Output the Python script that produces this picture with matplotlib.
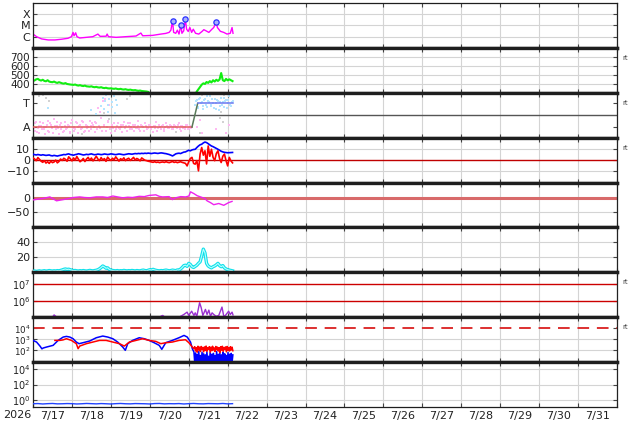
import numpy as np
import matplotlib
matplotlib.use("Agg")
import matplotlib.pyplot as plt
from matplotlib.ticker import FixedLocator, FixedFormatter, NullLocator

plt.rcParams['font.family'] = ['DejaVu Sans']

# ---------------- data (time in hours from 7/17 00:00) ----------------
day_labels = ['7/17', '7/18', '7/19', '7/20', '7/21', '7/22', '7/23', '7/24',
              '7/25', '7/26', '7/27', '7/28', '7/29', '7/30', '7/31']
year_label = '2026'

# Panel 1: X-ray flux
xray_t = [0, 2.2, 5.3, 9.4, 13.5, 17.6, 21.6, 23.7, 24.7, 25.3, 26.3, 27.1, 28.8, 32.9,
          36.9, 40, 41.4, 45.1, 45.7, 46.5, 51.2, 57.3, 63.5, 66.5, 67.6, 73.7, 78.8,
          81.8, 83.9, 85, 86, 86.7, 88, 89, 90, 91.2, 91.8, 92.9, 93.9, 94.7, 95.7,
          96.7, 97.8, 98.8, 100.2, 102.2, 104.3, 105.3, 106.7, 108.4, 110, 111.4,
          112.9, 113.7, 115.5, 117.6, 119.6, 121.6, 122.7, 123.3]
xray_v = [1.7e-6, 1.0e-6, 6.3e-7, 5.1e-7, 5.1e-7, 5.9e-7, 7.2e-7, 1.0e-6, 2.4e-6, 1.2e-6,
          2.2e-6, 1.0e-6, 7.6e-7, 8.7e-7, 1.0e-6, 1.7e-6, 1.07e-6, 1.1e-6, 1.7e-6, 1.0e-6,
          8.7e-7, 1.0e-6, 1.14e-6, 2.1e-6, 1.2e-6, 1.3e-6, 1.7e-6, 1.95e-6, 2.4e-6, 3.8e-6,
          2.5e-5, 2.4e-6, 2.0e-6, 3.8e-6, 1.7e-6, 1.1e-5, 2.0e-6, 3.3e-6, 3.4e-5, 4.6e-6,
          2.9e-6, 6.5e-6, 2.4e-6, 4.6e-6, 2.0e-6, 1.7e-6, 3.0e-6, 4.2e-6, 3.3e-6, 2.4e-6,
          4.2e-6, 6.5e-6, 2.0e-5, 6.5e-6, 3.0e-6, 2.4e-6, 1.7e-6, 2.0e-6, 6.5e-6, 2.0e-6]
flare_t = [86, 91.2, 93.9, 112.9]
flare_v = [2.5e-5, 1.1e-5, 3.4e-5, 2.0e-5]
xray_ticks = [1e-6, 1e-5, 1e-4]
xray_labels = ['C', 'M', 'X']

# Panel 2: solar wind speed (hourly)
nan = np.nan
speed_v = [430, 438, 450, 455, 442, 436, 445, 432, 428, 440, 425, 420, 418, 425, 415, 410, 418, 412, 405, 402, 408, 398, 395, 392,
           390, 388, 392, 384, 380, 385, 378, 375, 380, 372, 370, 368, 372, 365, 362, 366, 360, 358, 362, 355, 352, 356, 350, 348,
           350, 346, 344, 348, 342, 340, 344, 338, 336, 340, 334, 332, 335, 330, 328, 330, 325, 322, 325, 320, 318, 316, 314, 310,
           nan, nan, nan, nan, nan, nan, nan, nan, nan, nan, nan, nan, nan, nan,
           nan, nan, nan, nan, nan, nan, nan, nan, nan, nan, nan, nan, nan, nan,
           nan, 315, 340, 365, 390, 405, 398, 420, 410, 430, 415, 440, 425, 445, 432, 448, 520, 440, 430, 455, 438, 450, 440, 430]

# Panel 3: sector polarity (A = -1, T = +1)
pol_line_t = [0, 98, 101.5, 123]
pol_line_v = [-1, -1, 1, 1]
pink_v1 = [-0.8, -1.3, -0.6, -1.1, -1.5, -0.9, -0.7, -1.2, -1.0, -0.5, -1.4, -0.8, -1.1, -0.3, -1.2, -0.9, -1.6, -0.7, -1.0, -1.3,
           -0.6, -1.1, -0.9, -1.4, -0.4, -1.0, -1.2, -0.7, -1.5, -0.8, -1.1, -0.6, -1.3, -0.9, -1.0, -0.5, -1.2, -0.8, -1.4, -0.7,
           0.6, -1.1, -0.2, 1.2, -0.9, -1.3, -0.6, 0.9, -1.5, -1.0, -0.7, -1.2, -0.9, -1.1, -0.8, -1.4, -0.6, -1.0, -1.3, -0.9,
           -0.7, -1.2, -1.0, -0.8, -1.1, -0.5, -1.3, -0.9, -1.0, -0.7, -1.2, -1.1, -0.8, -1.0, -1.4, -0.9, -0.6, -1.1, -1.0, -1.2,
           -0.8, -1.3, -0.7, -1.0, -1.1, -0.9, -1.2, -0.8, -1.0, -1.1, -0.7, -1.3, -0.9, -1.0, -1.2, -0.8, -1.1, -0.9]
pink_v2 = [-1.1, -0.7, -1.4, -0.9, -0.6, -1.2, -1.0, -1.6, -0.8, -1.3, -0.7, -1.0, -1.5, -0.9, -0.6, -1.1, -0.8, -1.2, -1.4, -0.9,
           -1.2, -0.8, -1.5, -0.7, -1.1, -1.3, -0.6, -1.0, -0.9, -1.2, -0.5, -1.4, -0.8, -1.1, -1.3, -0.9, -0.7, -1.0, -0.6, -1.2,
           -0.9, 0.3, -1.3, -0.8, 1.4, -1.0, -0.5, -1.2, -0.8, -1.1, -1.3, -0.9, -0.7, -1.2, -1.0, -0.8, -1.1, -0.9, -0.7, -1.2,
           -1.0, -0.8, -1.3, -1.1, -0.9, -1.2, -0.8, -1.0, -1.3, -0.9, -1.1, -0.8, -1.2, -1.0, -0.9, -1.1, -1.3, -0.8, -1.0, -0.9,
           -1.2, -1.0, -0.9, -1.1, -0.8, -1.2, -1.0, -0.9, -1.1, -0.8, -1.2, -0.9, -1.1, -1.0, -0.8, -1.2, -1.0, -1.1]
pink_late_t = [101, 103, 104, 113, 119, 121]
pink_late_v = [-1.0, -0.4, -1.5, -1.2, -1.5, -0.8]
blue_early_t = [9.5, 42, 43, 44, 44.5, 45, 46, 46.5, 47, 48, 48.5, 49, 50, 50.5, 51, 52, 39, 36]
blue_early_v = [0.6, 0.8, 1.5, 0.5, 1.2, 1.7, 0.9, 0.3, 1.4, 1.8, 0.7, 1.1, 1.6, 0.2, 1.3, 0.9, 0.1, 0.4]
blue_late_v1 = [0.9, 1.3, 0.6, 1.5, 1.1, 0.8, 1.4, 0.7, 1.2, 1.6, 0.9, 1.0, 1.4, 0.5, 1.2, 0.8, 1.5, 1.1, 0.7, 1.3, 1.0, 1.6, 0.8, 1.2]
blue_late_v2 = [1.2, 0.7, 1.4, 1.0, 0.5, 1.3, 0.9, 1.6, 1.1, 0.8, 1.4, 0.6, 1.0, 1.3, 0.4, 1.1, 0.9, 1.5, 1.2, 0.6, 1.3, 0.9, 1.1]
gray_t = [4, 6, 8, 10, 30, 44, 47, 58, 60, 88, 96, 103, 115, 116, 117, 118, 104]
gray_v = [1.6, 1.7, 1.5, 1.2, -1.6, 0.2, -0.3, 1.4, 1.6, -1.4, 1.6, -1.5, -0.2, 0.3, -0.6, 1.7, 1.7]

# Panel 4: IMF Bt (blue) and Bz (red), hourly
bt_v = [4.8, 4.5, 4.2, 4.6, 4.3, 4.0, 4.4, 4.1, 3.8, 4.0, 4.2, 3.6, 3.4, 3.8, 3.5, 3.2, 3.6, 3.9, 4.2, 4.6,
        4.4, 4.9, 5.2, 4.6, 4.3, 4.0, 4.5, 4.8, 5.3, 5.0, 4.6, 4.2, 4.4, 4.8, 4.5, 4.9, 5.2, 4.7, 4.4, 4.6,
        5.0, 4.8, 4.5, 4.7, 5.1, 4.9, 4.6, 4.8, 5.2, 5.0, 4.7, 4.5, 4.8, 5.1, 4.9, 4.6, 4.4, 4.7, 5.0, 5.3,
        5.1, 4.9, 5.2, 5.5, 5.3, 5.6, 5.4, 5.7, 5.5, 5.8, 5.6, 5.9, 5.7, 5.5, 5.8, 6.0, 5.8, 5.6, 5.9, 6.1,
        5.9, 5.6, 5.4, 5.0, 4.6, 4.0, 3.3, 4.2, 5.2, 5.6, 5.8, 5.5, 6.2, 6.8, 7.0, 7.8, 8.5, 8.0, 8.8, 9.2,
        9.4, 11.0, 12.4, 13.5, 14.0, 15.2, 16.0, 15.5, 14.5, 13.4, 12.4, 11.8, 11.0, 10.2, 9.4, 8.5, 7.6, 7.0, 6.6, 6.4,
        6.2, 6.3, 6.4, 6.5]
bz_v = [1.5, 0.5, -1.0, 1.8, 0.2, -1.5, -2.5, -1.0, -3.2, -2.0, -3.5, -1.5, -2.8, -2.2, -0.5, -3.0, -1.8, 0.5, -0.8, 1.2,
        0.2, -1.5, 2.5, 0.8, -1.2, 1.5, -0.5, 2.8, 0.3, -2.0, -0.8, 1.0, -1.8, 0.5, 2.0, -0.6, 1.4, -1.2, 0.8, 3.0,
        0.5, -1.0, 1.8, -0.5, 0.9, -1.6, 2.2, 0.4, -0.8, 1.2, -0.2, 2.5, 0.6, -1.4, 0.8, -0.3, 1.6, -1.0, 0.5, 1.2,
        -0.8, 0.6, 2.0, -0.4, 1.0, 0.2, -1.2, 1.5, 0.4, -0.6, -1.0, -1.5, -1.8, -2.2, -2.5, -2.0, -2.6, -2.3, -2.8, -2.4,
        -2.2, -2.6, -2.0, -2.5, -2.8, -2.3, -1.8, -2.6, -2.2, -2.8, -2.4, -2.0, -2.6, -3.0,
        -3.5, -5.8, -2.0, 1.0, 2.0, -3.5, -4.2, -1.0, -10.3, 5.0, 11.0, 4.0, 8.0, -4.0, 12.4, 3.0, 9.4, 2.0, -1.0, 5.5,
        8.0, 1.0, -2.7, 3.0, 5.0, -1.0, -5.8, 2.0, -1.2, -3.0]

# Panel 5: Dst
dst_t = [0, 6.3, 10.4, 14.5, 16.5, 18.6, 21.6, 24.7, 28.8, 31.8, 34.9, 39, 43, 46, 49.2, 52.2, 55.3,
         58.4, 61.4, 65.5, 68.6, 71.6, 75.7, 77.8, 79.8, 83.9, 85.9, 88, 91, 94.1, 96.1, 97.1, 99.2,
         101.2, 104.3, 105.9, 107.3, 109.4, 111.4, 114.5, 117.6, 120.6, 122.7]
dst_v = [-8, -3, 2, -11, -9, -7, -4, 0, 2, 0, -1, 2, 2, 0, 5, 2, -1, 1, 0, 4, 3, 7, 9, 4, 2, 3, -7,
         -1, 3, 2, 5, 19, 13, 6, 0, -3, -11, -17, -24, -20, -26, -17, -13]

# Panel 6: cyan index (hourly)
cyan_v = [1.5, 1.8, 1.2, 1.6, 2.0, 1.4, 1.8, 2.2, 1.6, 1.9, 2.4, 2.0, 1.7, 2.1, 1.8, 2.3, 2.0, 2.6, 3.2, 4.0,
          4.5, 3.8, 4.2, 3.5, 2.8, 2.2, 2.5, 2.0, 1.8, 2.2, 1.9, 2.4, 2.0, 1.7, 2.1, 2.6, 2.2, 1.9, 2.4, 2.8,
          3.5, 4.8, 6.5, 8.5, 7.2, 5.5, 6.0, 4.0, 3.0, 2.5, 2.2, 2.0, 2.4, 1.8, 2.2, 2.0, 2.6, 2.2, 1.9, 2.3,
          2.0, 2.5, 2.2, 1.8, 2.4, 2.1, 1.9, 2.6, 3.0, 2.4, 2.0, 2.8, 3.5, 3.0, 4.0, 3.2, 2.6, 2.2, 2.0, 2.4,
          2.1, 2.6, 3.0, 2.5, 2.0, 2.4, 3.0, 2.6, 2.2, 3.2,
          3.0, 4.5, 6.5, 9.0, 9.5, 8.0, 12.0, 10.5, 7.5, 6.5, 8.0, 9.5, 12.0, 14.0, 22.0, 31.0, 26.0, 12.0,
          8.5, 7.0, 6.0, 7.5, 8.5, 10.0, 12.0, 9.0, 7.5, 9.0, 6.0, 4.5, 3.5, 3.0, 2.5, 2.0]

# Panel 7: purple flux
purple_t = [0, 11, 12, 13, 14, 15, 16, 77, 78, 79, 80, 81, 82, 83, 90, 91, 93, 95, 96, 97.8, 99.2, 100, 101,
            102.7, 103.7, 104.7, 106.3, 107.3, 108.4, 109.4, 110.4, 111.4, 112.9, 114.5, 116.5, 117.6,
            118.6, 120.6, 121.6, 122.7, 123.3]
purple_v = [9e4, 9e4, 1.12e5, 1.5e5, 1.25e5, 9e4, 9e4, 9e4, 9e4, 1.3e5, 1.4e5, 1.15e5, 9e4, 9e4, 9e4,
            1.25e5, 1.6e5, 2.2e5, 1.4e5, 2.5e5, 1.4e5, 2.0e5, 1.25e5, 8.0e5, 4.0e5, 1.4e5, 3.2e5, 1.6e5,
            2.9e5, 1.25e5, 2.0e5, 1.6e5, 1.25e5, 1.4e5, 4.4e5, 1.25e5, 1.4e5, 2.5e5, 1.6e5, 2.2e5, 1.5e5]
purple_ticks = [1e6, 1e7]

# Panel 8: particle flux (blue / red)
pb_t = [0, 2.2, 4.3, 5.5, 6.3, 8.4, 12.4, 15.5, 18.6, 20.6, 22.7, 24.7, 26.7, 28.4, 30.8, 34.9, 39, 43,
        46.1, 49.2, 52.2, 55.3, 56.9, 58.4, 61.4, 65.5, 68.6, 71.6, 74.7, 77.8, 79.4, 81.8, 85.9, 90,
        93.1, 95.1, 97.1, 98.2, 99.2,
        99.7, 100.2, 100.7, 101.2, 101.7, 102.2, 102.7, 103.2, 103.7, 104.2, 104.7, 105.2, 105.7, 106.2,
        106.7, 107.2, 107.7, 108.2, 108.7, 109.2, 109.7, 110.2, 110.7, 111.2, 111.7, 112.2, 112.7, 113.2,
        113.7, 114.2, 114.7, 115.2, 115.7, 116.2, 116.7, 117.2, 117.7, 118.2, 118.7, 119.2, 119.7, 120.2,
        120.7, 121.2, 121.7, 122.2, 122.7, 123.2]
pb_v = [810, 575, 250, 140, 167, 205, 290, 810, 1620, 1860, 1620, 1150, 575, 410, 500, 710, 1410, 2000,
        1620, 1150, 575, 205, 103, 410, 810, 1410, 1150, 810, 500, 290, 127, 500, 810, 1410,
        2280, 1620, 575, 146, 73,
        8, 60, 7, 45, 8, 80, 6, 35, 9, 70, 7, 50, 8, 40, 6, 75, 8, 30, 7, 65, 9, 45, 6, 55,
        8, 35, 7, 80, 6, 45, 9, 60, 7, 40, 8, 70, 6, 50, 9, 35, 7, 65, 8, 45, 6, 55, 8, 40]
pr_t = [13.5, 16.5, 18.5, 20.6, 23.7, 26.7, 27.8, 28.8, 32.9, 36.9, 41, 45.1, 49.2, 53.3, 56.3, 59.4,
        63.5, 67.6, 71.6, 75.7, 78.8, 81.8, 85.9, 90, 94, 96.1, 98.2, 99.2,
        99.7, 100.2, 100.7, 101.2, 101.7, 102.2, 102.7, 103.2, 103.7, 104.2, 104.7, 105.2, 105.7, 106.2,
        106.7, 107.2, 107.7, 108.2, 108.7, 109.2, 109.7, 110.2, 110.7, 111.2, 111.7, 112.2, 112.7, 113.2,
        113.7, 114.2, 114.7, 115.2, 115.7, 116.2, 116.7, 117.2, 117.7, 118.2, 118.7, 119.2, 119.7, 120.2,
        120.7, 121.2, 121.7, 122.2, 122.7, 123.2]
pr_v = [810, 810, 900, 1150, 810, 410, 146, 250, 410, 575, 810, 810, 575, 410, 250, 575,
        810, 1150, 810, 660, 410, 500, 575, 810, 930, 500, 205, 146,
        220, 90, 180, 70, 240, 110, 200, 80, 230, 120, 190, 75, 210, 100, 250, 85, 180, 130, 220, 70,
        200, 95, 240, 110, 170, 80, 230, 120, 200, 90, 180, 65, 220, 105, 240, 85, 190, 120, 210, 75,
        230, 100, 180, 90, 220, 110, 200, 95]
pf_ticks = [1e2, 1e3, 1e4]

# Panel 9: bottom flux (every 3 h)
bot_v = [0.33, 0.35, 0.31, 0.34, 0.36, 0.32, 0.33, 0.35, 0.34, 0.31, 0.33, 0.36, 0.34, 0.32, 0.35, 0.33,
         0.31, 0.34, 0.36, 0.33, 0.32, 0.35, 0.34, 0.33, 0.31, 0.35, 0.36, 0.32, 0.34, 0.33, 0.35, 0.31,
         0.34, 0.36, 0.33, 0.32, 0.35, 0.34, 0.33, 0.36, 0.32, 0.34]
bot_ticks = [1e0, 1e2, 1e4]

# ---------------- figure ----------------
W, H = 634, 424
fig = plt.figure(figsize=(W / 100, H / 100), dpi=100)
left_px, right_px, top_px, bot_px = 33, 617, 3, 407
n = 9
ph = (bot_px - top_px) / n
axes = []
for i in range(n):
    b = (H - top_px - (i + 1) * ph) / H
    ax = fig.add_axes([left_px / W, b, (right_px - left_px) / W, ph / H])
    axes.append(ax)

GRID = '#d4d4d4'
for i, ax in enumerate(axes):
    ax.set_xlim(0, 360)
    ax.xaxis.set_major_locator(FixedLocator(np.arange(0, 361, 24)))
    ax.grid(True, axis='x', color=GRID, lw=0.8, zorder=0)
    ax.tick_params(axis='x', which='major', direction='in', length=3, top=True,
                   labelbottom=False, color='#444')
    ax.tick_params(axis='y', which='major', direction='in', length=3, right=True,
                   labelsize=8, labelcolor='#222', pad=2, color='#444')
    ax.yaxis.set_minor_locator(NullLocator())
    for s in ['left', 'right']:
        ax.spines[s].set_linewidth(0.9)
        ax.spines[s].set_color('#222')
    ax.spines['top'].set_linewidth(2.4 if i > 0 else 0.9)
    ax.spines['bottom'].set_linewidth(2.4 if i < n - 1 else 0.9)
    ax.spines['top'].set_color('#1e1e1e')
    ax.spines['bottom'].set_color('#1e1e1e')
    ax.set_axisbelow(True)


def hy(ax, ticks):
    for v in ticks:
        ax.axhline(v, color=GRID, lw=0.8, zorder=0)


# Panel 1
ax = axes[0]
ax.set_yscale('log')
ax.set_ylim(1e-7, 1e-3)
ax.yaxis.set_major_locator(FixedLocator(xray_ticks))
ax.yaxis.set_major_formatter(FixedFormatter(xray_labels))
ax.yaxis.set_minor_locator(NullLocator())
hy(ax, xray_ticks)
ax.tick_params(axis='y', labelsize=8)
ax.plot(xray_t, xray_v, color='#ff00ff', lw=1.0)
ax.plot(flare_t, flare_v, 'o', ms=3.8, mfc='#a8b0ff', mec='#2a30ff', mew=0.9, zorder=5)

# Panel 2
ax = axes[1]
ax.set_ylim(300, 800)
sp_ticks = [400, 500, 600, 700]
ax.yaxis.set_major_locator(FixedLocator(sp_ticks))
hy(ax, sp_ticks)
ax.tick_params(axis='y', labelsize=7.5)
ax.plot(np.arange(len(speed_v)), speed_v, color='#11ee11', lw=1.5)

# Panel 3
ax = axes[2]
ax.set_ylim(-1.9, 1.9)
ax.yaxis.set_major_locator(FixedLocator([-1, 1]))
ax.yaxis.set_major_formatter(FixedFormatter(['A', 'T']))
ax.tick_params(axis='y', labelsize=8)
ax.axhline(0, color='#555555', lw=1.0, zorder=1)
ms = 2.0
ax.plot(gray_t, gray_v, 's', ms=ms, color='#d2d2d2', mew=0, zorder=2)
ax.plot(np.arange(len(pink_v1)), pink_v1, 's', ms=ms, color='#ffbaf2', mew=0, zorder=2)
ax.plot(np.arange(len(pink_v2)) + 0.5, pink_v2, 's', ms=ms, color='#ffbaf2', mew=0, zorder=2)
ax.plot(pink_late_t, pink_late_v, 's', ms=ms, color='#ffbaf2', mew=0, zorder=2)
ax.plot(blue_early_t, blue_early_v, 's', ms=ms, color='#b4e4ff', mew=0, zorder=2)
ax.plot(np.arange(len(blue_late_v1)) + 100, blue_late_v1, 's', ms=ms, color='#b4e4ff', mew=0, zorder=2)
ax.plot(np.arange(len(blue_late_v2)) + 100.5, blue_late_v2, 's', ms=ms, color='#b4e4ff', mew=0, zorder=2)
ax.plot(pol_line_t[:2], pol_line_v[:2], color='#e05a5a', lw=1.1, zorder=3)
ax.plot(pol_line_t[1:3], pol_line_v[1:3], color='#5a7a5a', lw=1.1, zorder=3)
ax.plot(pol_line_t[2:], pol_line_v[2:], color='#6a78f0', lw=1.1, zorder=3)

# Panel 4
ax = axes[3]
ax.set_ylim(-21, 20)
b_ticks = [-10, 0, 10]
ax.yaxis.set_major_locator(FixedLocator(b_ticks))
hy(ax, [-10, 10])
ax.axhline(0, color='#c00000', lw=1.0, zorder=1)
ax.plot(np.arange(len(bt_v)), bt_v, color='#0000ff', lw=1.2, zorder=3)
ax.plot(np.arange(len(bz_v)), bz_v, color='#ff0000', lw=1.2, zorder=4)

# Panel 5
ax = axes[4]
ax.set_ylim(-100, 50)
ax.yaxis.set_major_locator(FixedLocator([-50, 0]))
hy(ax, [-50])
ax.axhline(0, color='#d86a6a', lw=2.2, zorder=1)
ax.plot(dst_t, dst_v, color='#ee22ee', lw=1.0, zorder=3)

# Panel 6
ax = axes[5]
ax.set_ylim(0, 60)
c_ticks = [20, 40]
ax.yaxis.set_major_locator(FixedLocator(c_ticks))
hy(ax, c_ticks)
ax.plot(np.arange(len(cyan_v)), cyan_v, color='#10e0ea', lw=2.4, zorder=3)
ax.plot(np.arange(len(cyan_v)), cyan_v, color='#b8ffff', lw=0.8, zorder=4)

# Panel 7
ax = axes[6]
ax.set_yscale('log')
ax.set_ylim(1.1e5, 5e7)
ax.yaxis.set_major_locator(FixedLocator(purple_ticks))
ax.yaxis.set_minor_locator(NullLocator())
for v in purple_ticks:
    ax.axhline(v, color='#cc0000', lw=1.0, zorder=1)
ax.plot(purple_t, purple_v, color='#9a30d0', lw=1.0, zorder=3)

# Panel 8
ax = axes[7]
ax.set_yscale('log')
ax.set_ylim(10 ** 0.95, 1e5)
ax.yaxis.set_major_locator(FixedLocator(pf_ticks))
ax.yaxis.set_minor_locator(NullLocator())
hy(ax, [1e2, 1e3])
ax.axhline(1e4, color='#dd3030', lw=1.4, ls=(0, (6, 4)), zorder=1)
ax.plot(pb_t, pb_v, color='#0000ff', lw=1.1, zorder=3)
ax.plot(pr_t, pr_v, color='#ff0000', lw=1.1, zorder=4)

# Panel 9
ax = axes[8]
ax.set_yscale('log')
ax.set_ylim(10 ** -0.9, 10 ** 4.9)
ax.yaxis.set_major_locator(FixedLocator(bot_ticks))
ax.yaxis.set_minor_locator(NullLocator())
hy(ax, bot_ticks)
ax.plot(np.arange(len(bot_v)) * 3, bot_v, color='#2244ff', lw=1.0, zorder=3)

for k in (6, 8):
    axes[k].tick_params(axis='y', labelsize=7)
axes[7].tick_params(axis='y', labelsize=6.3)

# bottom x labels: dates centred on each day
axb = axes[-1]
axb.xaxis.set_minor_locator(FixedLocator(np.arange(12, 360, 24)))
axb.xaxis.set_minor_formatter(FixedFormatter(day_labels))
axb.tick_params(axis='x', which='minor', length=0, labelsize=8, labelcolor='#222', pad=3)
fig.text(17 / W, 1 - 415 / H, year_label, fontsize=8, color='#222', ha='center', va='center')

# small "rt" marks on the right
for i in [1, 2, 3, 6, 7]:
    ytop = top_px + i * ph + 10
    fig.text(622 / W, 1 - ytop / H, 'rt', fontsize=5, color='#444', ha='left', va='center')

fig.savefig('out.png', dpi=100)
